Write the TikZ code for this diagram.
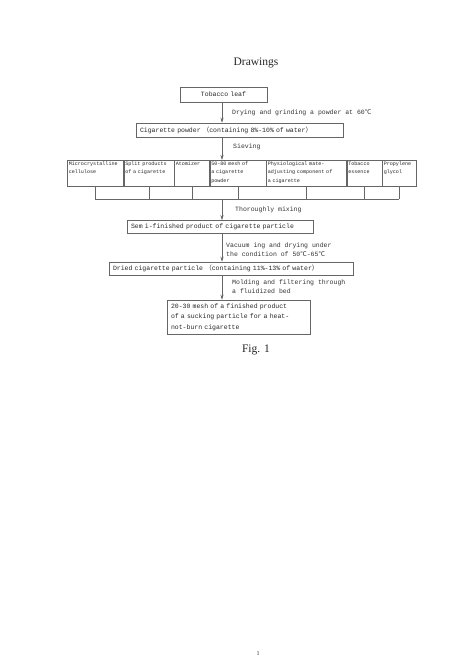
\documentclass[tikz,border=0pt]{standalone}
\usepackage{fontspec}
\setmainfont{Liberation Serif}
\setmonofont{Liberation Mono}
\newfontfamily\cjk{Noto Sans CJK SC}
\usetikzlibrary{arrows.meta,positioning}
\newcommand\boxfont{\ttfamily\fontsize{6.5}{9}\selectfont}
\newcommand\cellfont{\ttfamily\fontsize{5.1}{8.2}\selectfont}
\newcommand\degC{{\cjk ℃}}
\tikzset{
  box/.style  = {draw=black!60, line width=0.5pt, font=\boxfont, text=black!85, align=left,
                 inner xsep=4pt, inner ysep=1pt},
  cell/.style = {draw=black!60, line width=0.5pt, font=\cellfont, text=black!85, align=left,
                 inner xsep=1.5pt, inner ysep=1.5pt, text height=4pt, text depth=19pt},
  lbl/.style  = {font=\boxfont, text=black!80, anchor=west, align=left, inner sep=0pt},
  ar/.style   = {-{Stealth[length=1.8mm,width=1.1mm]}, line width=0.5pt, draw=black!60},
  ln/.style   = {line width=0.5pt, draw=black!60},
  heading/.style = {font=\fontsize{11.5}{13}\selectfont, text=black!85},
}
\begin{document}
\begin{tikzpicture}[x=1pt, y=-1pt]
  \useasboundingbox (0,0) rectangle (471,661);
  \coordinate (axis) at (222,0);
  \node[heading] (title) at (256,63) {Drawings};
  % main chain
  \node[box, align=center, text width=79pt, minimum height=15pt] (leaf) at (223.5,94.5) {Tobacco leaf};
  \node[box, text width=199pt, minimum height=14pt] (powder) at (239.5,130)
    {Cigarette powder {\cjk （}containing 8\%-10\% of water{\cjk ）}};
  \node[lbl] (dry) at (232,113) {Drying and grinding a powder at 60\degC};
  \node[lbl] (sieve) at (233,147) {Sieving};
  % components
  \node[cell, text width=53pt, anchor=north west] (micro) at (67,160) {Microcrystalline\\cellulose};
  \node[cell, text width=47pt, right=0pt of micro] (split) {Split products\\of a cigarette};
  \node[cell, text width=32pt, right=0pt of split] (atom) {Atomizer};
  \node[cell, text width=53pt, right=0pt of atom] (mesh) {50-80 mesh of\\a cigarette\\powder};
  \node[cell, text width=77pt, right=0pt of mesh] (phys) {Physiological mate-\\adjusting component of\\a cigarette};
  \node[cell, text width=32pt, right=0pt of phys] (essence) {Tobacco\\essence};
  \node[cell, text width=31pt, right=0pt of essence] (glycol) {Propylene\\glycol};
  \coordinate (bar) at (0,199);
  \foreach \c in {micro,split,atom,mesh,phys,essence,glycol}
    \draw[ln] (\c.south) -- (\c.south |- bar);
  \draw[ln] (micro.south |- bar) -- (glycol.south |- bar);
  \node[lbl] (mix) at (235,210) {Thoroughly mixing};
  \node[box, text width=178pt, minimum height=13pt] (semi) at (220,227)
    {Sem i-finished product of cigarette particle};
  \node[lbl] (vac) at (226,249.5) {Vacuum ing and drying under\\the condition of 50\degC-65\degC};
  \node[box, text width=236pt, minimum height=13pt] (dried) at (231,268.5)
    {Dried cigarette particle {\cjk （}containing 11\%-13\% of water{\cjk ）}};
  \node[lbl] (mold) at (232,286.5) {Molding and filtering through\\a fluidized bed};
  \node[box, text width=135pt, minimum height=34pt, font=\ttfamily\fontsize{6.5}{10.5}\selectfont] (final) at (238.5,317)
    {20-30 mesh of a finished product\\of a sucking particle for a heat-\\not-burn cigarette};
  \node[heading] (fig) at (256,350) {Fig. 1};
  \node[font=\fontsize{6}{7}\selectfont, text=black!80] (page) at (258,654) {1};
  % connectors
  \draw[ar] (leaf.south -| axis) -- (powder.north -| axis);
  \draw[ar] (powder.south -| axis) -- (mesh.north -| axis);
  \draw[ar] (bar -| axis) -- (semi.north -| axis);
  \draw[ar] (semi.south -| axis) -- (dried.north -| axis);
  \draw[ar] (dried.south -| axis) -- (final.north -| axis);
\end{tikzpicture}
\end{document}
